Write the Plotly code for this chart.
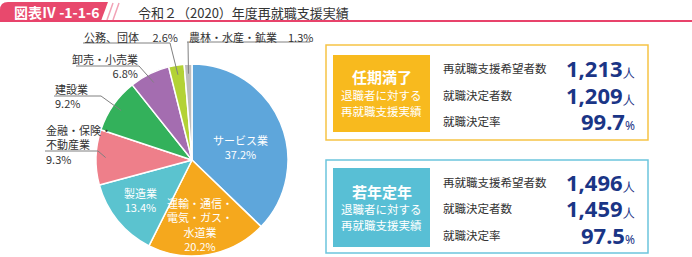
import math
import plotly.graph_objects as go

# ---------------- data ----------------
categories = ["サービス業", "運輸・通信・電気・ガス・水道業", "製造業", "金融・保険・不動産業",
              "建設業", "卸売・小売業", "公務、団体", "農林・水産・鉱業"]
shares = [37.2, 20.2, 13.4, 9.3, 9.2, 6.8, 2.6, 1.3]
slice_colors = ["#5EA6DB", "#F5A81D", "#5BC3CF", "#EE7F8A", "#33B15B", "#A46DB0", "#B3D235", "#BDBDBD"]

row_labels = ["再就職支援希望者数", "就職決定者数", "就職決定率"]
units = ["人", "人", "%"]
ninki_values = ["1,213", "1,209", "99.7"]
wakanen_values = ["1,496", "1,459", "97.5"]

fig_id = "図表Ⅳ -1-1-6"
fig_title = "令和２（2020）年度再就職支援実績"

# ---------------- layout helpers ----------------
W, H = 692, 257
FONT = "Noto Sans CJK JP"


def px(x):
    return x / W


def py(y):
    return 1 - y / H


CX, CY, R = 192, 160, 96

fig = go.Figure()
fig.add_trace(go.Pie(
    labels=categories, values=shares, sort=False, direction="clockwise", rotation=0,
    marker=dict(colors=slice_colors, line=dict(color="white", width=1.5)),
    textinfo="none", hoverinfo="label+percent", showlegend=False,
    domain=dict(x=[px(CX - R), px(CX + R)], y=[py(CY + R), py(CY - R)]),
))

shapes = []
annotations = []


def text(x, y, s, size=11, color="#333333", xanchor="left", yanchor="middle", align="left", family=FONT):
    annotations.append(dict(x=px(x), y=py(y), xref="paper", yref="paper", text=s, showarrow=False,
                            xanchor=xanchor, yanchor=yanchor, align=align, borderpad=0,
                            font=dict(family=family, size=size, color=color)))


def line(x0, y0, x1, y1, color="#777777", width=1):
    shapes.append(dict(type="line", xref="paper", yref="paper", x0=px(x0), y0=py(y0), x1=px(x1), y1=py(y1),
                       line=dict(color=color, width=width)))


def rect(x0, y0, x1, y1, fill=None, border=None, bw=1.5):
    shapes.append(dict(type="rect", xref="paper", yref="paper", x0=px(x0), y0=py(y0), x1=px(x1), y1=py(y1),
                       fillcolor=fill if fill else "rgba(0,0,0,0)",
                       line=dict(color=border if border else "rgba(0,0,0,0)", width=bw if border else 0)))


# slice mid angles (clockwise from 12 o'clock) from data
total = sum(shares)
mids = []
cum = 0
for v in shares:
    mids.append((cum + v / 2) / total * 360)
    cum += v


def slice_point(i, f=0.9):
    a = math.radians(mids[i])
    return CX + f * R * math.sin(a), CY - f * R * math.cos(a)


def pct(i):
    return f"{shares[i]:.1f}%"


# ---------------- header ----------------
hx = lambda x: f"{px(x):.5f}"
hy = lambda y: f"{py(y):.5f}"
tab_path = (f"M {hx(0)},{hy(21)} L {hx(0)},{hy(10)} Q {hx(0)},{hy(2)} {hx(8)},{hy(2)} "
            f"L {hx(108)},{hy(2)} L {hx(101)},{hy(21)} Z")
shapes.append(dict(type="path", xref="paper", yref="paper", path=tab_path, fillcolor="#E8496D",
                   line=dict(width=0)))
line(113, 3, 107, 20, color="#F2A3B6", width=1.5)
line(119, 3, 113, 20, color="#F2A3B6", width=1.5)
line(0, 21, W, 21, color="#E8436B", width=2)
text(13, 12, f"<b>{fig_id}</b>", size=14, color="white")
text(137, 12, fig_title, size=13, color="#333333")

# ---------------- pie inside labels ----------------
text(240, 147, f"サービス業<br>{pct(0)}", size=11, color="white", xanchor="center", align="center")
text(200, 224, f"運輸・通信・<br>電気・ガス・<br>水道業<br>{pct(1)}", size=11, color="white",
     xanchor="center", align="center")
text(140, 200, f"製造業<br>{pct(2)}", size=11, color="white", xanchor="center", align="center")

# ---------------- pie outside labels ----------------
LC = "#333333"
UL = "#808080"
# 金融・保険・不動産業
text(45, 144, f"金融・保険・<br>不動産業<br>{pct(3)}", color=LC)
ex, ey = slice_point(3)
line(45, 151, 98, 151, color=UL)
line(98, 151, ex, ey, color=UL)
# 建設業
text(54, 96, f"建設業<br>{pct(4)}", color=LC)
ex, ey = slice_point(4)
line(54, 96, 101, 96, color=UL)
line(101, 96, ex, ey, color=UL)
# 卸売・小売業
text(139, 65.5, f"卸売・小売業<br>{pct(5)}", color=LC, xanchor="right", align="right")
ex, ey = slice_point(5)
line(76, 66, 139, 66, color=UL)
line(139, 66, ex, ey, color=UL)
# 公務、団体
text(83, 37, f"公務、団体　 {pct(6)}", color=LC)
ex, ey = slice_point(6)
line(83, 43, 170, 43, color=UL)
line(170, 43, ex, ey, color=UL)
# 農林・水産・鉱業
text(188, 37, f"農林・水産・鉱業　{pct(7)}", color=LC)
ex, ey = slice_point(7)
line(187, 42, 310, 42, color=UL)
line(188, 42, ex, ey, color=UL)

# ---------------- right panels ----------------
NAVY = "#1A3586"


def panel(top, bottom, in_top, in_bottom, border, fill, heading, head_y, sub_ys, row_ys, values):
    rect(326, top, 648, bottom, border=border, bw=1.5)
    rect(333, in_top, 430, in_bottom, fill=fill)
    text(381.5, head_y, f"<b>{heading}</b>", size=15, color="white", xanchor="center")
    text(381.5, sub_ys[0], "退職者に対する", size=11.5, color="white", xanchor="center")
    text(381.5, sub_ys[1], "再就職支援実績", size=11.5, color="white", xanchor="center")
    for lab, val, unit, ry in zip(row_labels, values, units, row_ys):
        text(442, ry, lab, size=11.5, color="#333333")
        annotations.append(dict(
            x=px(636), y=py(ry), xref="paper", yref="paper", showarrow=False, xanchor="right", yanchor="middle",
            borderpad=0, height=24, valign="middle",
            text=f"<b>{val}</b><span style='font-size:12px'>{unit}</span>",
            font=dict(family="Noto Sans", size=22, color=NAVY)))


panel(45, 140, 55, 132, "#F6C445", "#F8BA1E", "任期満了", 76, (95, 111), (68, 95, 121), ninki_values)
panel(160, 253, 168, 247, "#6CC5DD", "#58BFD5", "若年定年", 191, (209, 225), (182, 208, 235), wakanen_values)

fig.update_layout(
    width=W, height=H, margin=dict(l=0, r=0, t=0, b=0),
    paper_bgcolor="white", plot_bgcolor="white",
    shapes=shapes, annotations=annotations, showlegend=False,
    font=dict(family=FONT),
)
fig.write_html("out.html")
